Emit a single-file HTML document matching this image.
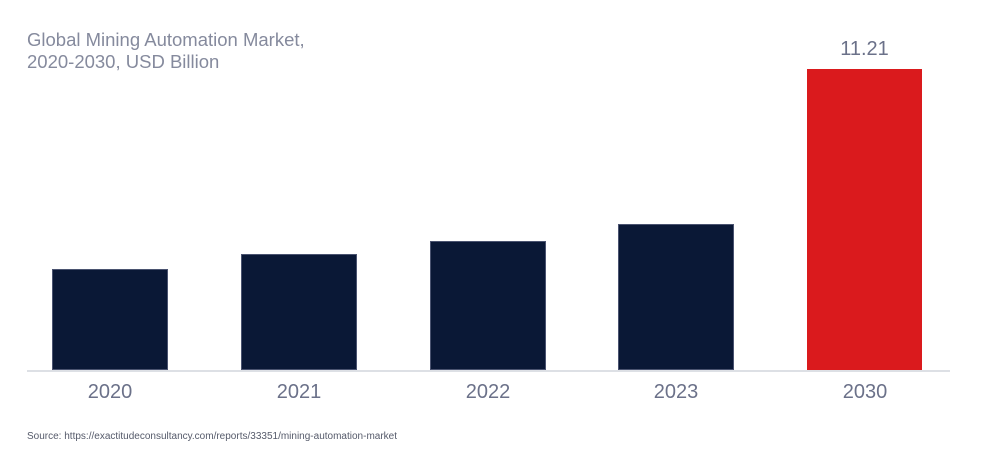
<!DOCTYPE html>
<html><head><style>
html,body{margin:0;padding:0;background:#fff;}
body{width:981px;height:451px;position:relative;overflow:hidden;font-family:"Liberation Sans",sans-serif;}
.t{position:absolute;left:27px;color:#858a9d;font-size:18.5px;line-height:22px;}
.b{position:absolute;background:#0a1836;box-shadow:inset 0 0 0 1px #4a5370;}
.r{background:#da1a1d;box-shadow:none;}
.l{position:absolute;width:116px;text-align:center;top:381px;font-size:20px;color:#6b7189;}
</style></head><body>
<div class="t" style="top:29px">Global Mining Automation Market,<br>2020-2030, USD Billion</div>
<div class="b" style="left:52px;width:116px;top:269px;height:101px"></div>
<div class="b" style="left:241px;width:116px;top:254px;height:116px"></div>
<div class="b" style="left:430px;width:116px;top:241px;height:129px"></div>
<div class="b" style="left:618px;width:116px;top:224px;height:146px"></div>
<div class="b r" style="left:807px;width:115px;top:69px;height:301px"></div>
<div style="position:absolute;left:807px;width:115px;top:38px;text-align:center;font-size:20px;color:#6b7189">11.21</div>
<div style="position:absolute;left:27px;width:923px;top:370px;height:2px;background:#dde0e5"></div>
<div class="l" style="left:52px">2020</div>
<div class="l" style="left:241px">2021</div>
<div class="l" style="left:430px">2022</div>
<div class="l" style="left:618px">2023</div>
<div class="l" style="left:807px">2030</div>
<div style="position:absolute;left:27px;top:431px;font-size:10px;color:#555a6a">Source: https://exactitudeconsultancy.com/reports/33351/mining-automation-market</div>
</body></html>
